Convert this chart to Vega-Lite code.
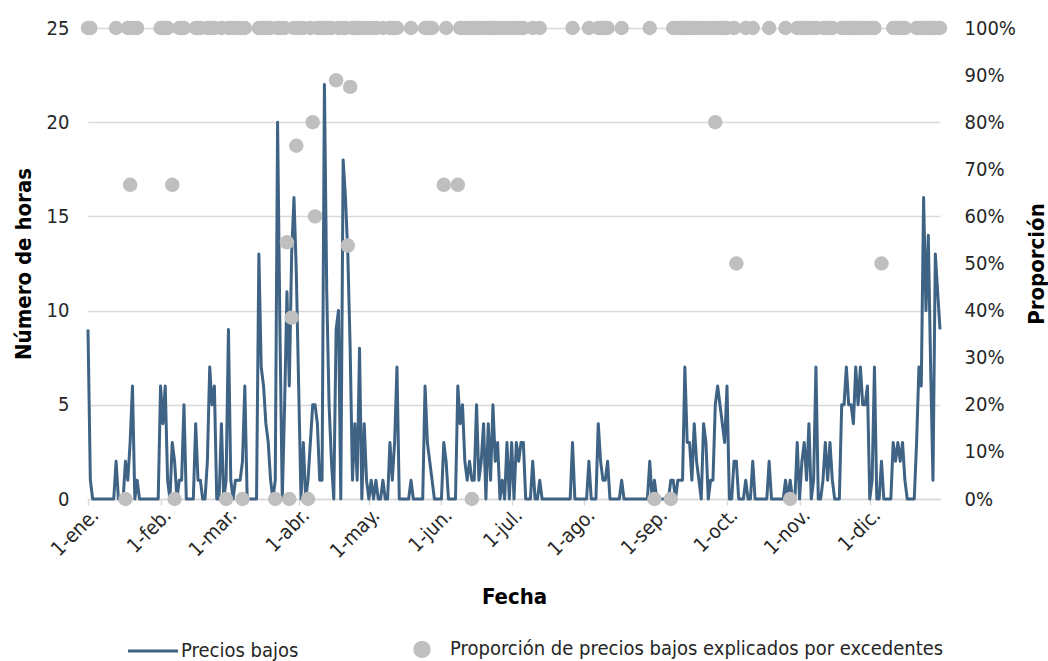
{
  "$schema": "https://vega.github.io/schema/vega-lite/v6.json",
  "width": 852,
  "height": 471,
  "autosize": {"type": "none"},
  "padding": {"left": 88, "top": 28, "right": 108, "bottom": 162},
  "background": "white",
  "config": {
    "view": {"stroke": null},
    "font": "Liberation Sans Narrow, DejaVu Sans Condensed, Roboto Condensed, Liberation Sans, sans-serif",
    "axis": {"labelColor": "#262626", "titleColor": "#000000"}
  },
  "data": {"values": [
    {"f":"2023-01-01","h":9,"p":1},{"f":"2023-01-02","h":1,"p":1},{"f":"2023-01-03","h":0},{"f":"2023-01-04","h":0},{"f":"2023-01-05","h":0},{"f":"2023-01-06","h":0},{"f":"2023-01-07","h":0},{"f":"2023-01-08","h":0},{"f":"2023-01-09","h":0},{"f":"2023-01-10","h":0},{"f":"2023-01-11","h":0},{"f":"2023-01-12","h":0},{"f":"2023-01-13","h":2,"p":1},{"f":"2023-01-14","h":0},{"f":"2023-01-15","h":0},{"f":"2023-01-16","h":0},{"f":"2023-01-17","h":2,"p":0},{"f":"2023-01-18","h":1,"p":1},{"f":"2023-01-19","h":3,"p":0.667},{"f":"2023-01-20","h":6,"p":1},{"f":"2023-01-21","h":0},{"f":"2023-01-22","h":1,"p":1},{"f":"2023-01-23","h":0},{"f":"2023-01-24","h":0},{"f":"2023-01-25","h":0},{"f":"2023-01-26","h":0},{"f":"2023-01-27","h":0},{"f":"2023-01-28","h":0},{"f":"2023-01-29","h":0},{"f":"2023-01-30","h":0},{"f":"2023-01-31","h":0},
    {"f":"2023-02-01","h":6,"p":1},{"f":"2023-02-02","h":4,"p":1},{"f":"2023-02-03","h":6,"p":1},{"f":"2023-02-04","h":1,"p":1},{"f":"2023-02-05","h":0},{"f":"2023-02-06","h":3,"p":0.667},{"f":"2023-02-07","h":2,"p":0},{"f":"2023-02-08","h":0},{"f":"2023-02-09","h":1,"p":1},{"f":"2023-02-10","h":1,"p":1},{"f":"2023-02-11","h":5,"p":1},{"f":"2023-02-12","h":0},{"f":"2023-02-13","h":0},{"f":"2023-02-14","h":0},{"f":"2023-02-15","h":0},{"f":"2023-02-16","h":4,"p":1},{"f":"2023-02-17","h":1,"p":1},{"f":"2023-02-18","h":1,"p":1},{"f":"2023-02-19","h":0},{"f":"2023-02-20","h":0},{"f":"2023-02-21","h":2,"p":1},{"f":"2023-02-22","h":7,"p":1},{"f":"2023-02-23","h":5,"p":1},{"f":"2023-02-24","h":6,"p":1},{"f":"2023-02-25","h":0},{"f":"2023-02-26","h":0},{"f":"2023-02-27","h":4,"p":1},{"f":"2023-02-28","h":0},
    {"f":"2023-03-01","h":1,"p":0},{"f":"2023-03-02","h":9,"p":1},{"f":"2023-03-03","h":1,"p":1},{"f":"2023-03-04","h":0},{"f":"2023-03-05","h":1,"p":1},{"f":"2023-03-06","h":1,"p":1},{"f":"2023-03-07","h":1,"p":1},{"f":"2023-03-08","h":2,"p":0},{"f":"2023-03-09","h":6,"p":1},{"f":"2023-03-10","h":0},{"f":"2023-03-11","h":0},{"f":"2023-03-12","h":0},{"f":"2023-03-13","h":0},{"f":"2023-03-14","h":0},{"f":"2023-03-15","h":13,"p":1},{"f":"2023-03-16","h":7,"p":1},{"f":"2023-03-17","h":6,"p":1},{"f":"2023-03-18","h":4,"p":1},{"f":"2023-03-19","h":3,"p":1},{"f":"2023-03-20","h":1,"p":1},{"f":"2023-03-21","h":0},{"f":"2023-03-22","h":1,"p":0},{"f":"2023-03-23","h":20,"p":1},{"f":"2023-03-24","h":9,"p":1},{"f":"2023-03-25","h":0},{"f":"2023-03-26","h":5,"p":1},{"f":"2023-03-27","h":11,"p":0.545},{"f":"2023-03-28","h":6,"p":0},{"f":"2023-03-29","h":13,"p":0.385},{"f":"2023-03-30","h":16,"p":1},{"f":"2023-03-31","h":12,"p":0.75},
    {"f":"2023-04-01","h":6,"p":1},{"f":"2023-04-02","h":0},{"f":"2023-04-03","h":3,"p":1},{"f":"2023-04-04","h":0},{"f":"2023-04-05","h":1,"p":0},{"f":"2023-04-06","h":3,"p":1},{"f":"2023-04-07","h":5,"p":0.8},{"f":"2023-04-08","h":5,"p":0.6},{"f":"2023-04-09","h":4,"p":1},{"f":"2023-04-10","h":1,"p":1},{"f":"2023-04-11","h":1,"p":1},{"f":"2023-04-12","h":22,"p":1},{"f":"2023-04-13","h":11,"p":1},{"f":"2023-04-14","h":5,"p":1},{"f":"2023-04-15","h":2,"p":1},{"f":"2023-04-16","h":0},{"f":"2023-04-17","h":9,"p":0.889},{"f":"2023-04-18","h":10,"p":1},{"f":"2023-04-19","h":0},{"f":"2023-04-20","h":18,"p":1},{"f":"2023-04-21","h":16,"p":1},{"f":"2023-04-22","h":13,"p":0.538},{"f":"2023-04-23","h":8,"p":0.875},{"f":"2023-04-24","h":1,"p":1},{"f":"2023-04-25","h":4,"p":1},{"f":"2023-04-26","h":1,"p":1},{"f":"2023-04-27","h":8,"p":1},{"f":"2023-04-28","h":0},{"f":"2023-04-29","h":4,"p":1},{"f":"2023-04-30","h":1,"p":1},
    {"f":"2023-05-01","h":0},{"f":"2023-05-02","h":1,"p":1},{"f":"2023-05-03","h":0},{"f":"2023-05-04","h":1,"p":1},{"f":"2023-05-05","h":0},{"f":"2023-05-06","h":0},{"f":"2023-05-07","h":1,"p":1},{"f":"2023-05-08","h":0},{"f":"2023-05-09","h":0},{"f":"2023-05-10","h":3,"p":1},{"f":"2023-05-11","h":1,"p":1},{"f":"2023-05-12","h":3,"p":1},{"f":"2023-05-13","h":7,"p":1},{"f":"2023-05-14","h":0},{"f":"2023-05-15","h":0},{"f":"2023-05-16","h":0},{"f":"2023-05-17","h":0},{"f":"2023-05-18","h":0},{"f":"2023-05-19","h":1,"p":1},{"f":"2023-05-20","h":0},{"f":"2023-05-21","h":0},{"f":"2023-05-22","h":0},{"f":"2023-05-23","h":0},{"f":"2023-05-24","h":0},{"f":"2023-05-25","h":6,"p":1},{"f":"2023-05-26","h":3,"p":1},{"f":"2023-05-27","h":2,"p":1},{"f":"2023-05-28","h":1,"p":1},{"f":"2023-05-29","h":0},{"f":"2023-05-30","h":0},{"f":"2023-05-31","h":0},
    {"f":"2023-06-01","h":0},{"f":"2023-06-02","h":3,"p":0.667},{"f":"2023-06-03","h":2,"p":1},{"f":"2023-06-04","h":0},{"f":"2023-06-05","h":0},{"f":"2023-06-06","h":0},{"f":"2023-06-07","h":0},{"f":"2023-06-08","h":6,"p":0.667},{"f":"2023-06-09","h":4,"p":1},{"f":"2023-06-10","h":5,"p":1},{"f":"2023-06-11","h":2,"p":1},{"f":"2023-06-12","h":1,"p":1},{"f":"2023-06-13","h":2,"p":1},{"f":"2023-06-14","h":1,"p":0},{"f":"2023-06-15","h":1,"p":1},{"f":"2023-06-16","h":5,"p":1},{"f":"2023-06-17","h":1,"p":1},{"f":"2023-06-18","h":2,"p":1},{"f":"2023-06-19","h":4,"p":1},{"f":"2023-06-20","h":0},{"f":"2023-06-21","h":4,"p":1},{"f":"2023-06-22","h":1,"p":1},{"f":"2023-06-23","h":5,"p":1},{"f":"2023-06-24","h":2,"p":1},{"f":"2023-06-25","h":3,"p":1},{"f":"2023-06-26","h":0},{"f":"2023-06-27","h":1,"p":1},{"f":"2023-06-28","h":0},{"f":"2023-06-29","h":3,"p":1},{"f":"2023-06-30","h":0},
    {"f":"2023-07-01","h":3,"p":1},{"f":"2023-07-02","h":0},{"f":"2023-07-03","h":3,"p":1},{"f":"2023-07-04","h":2,"p":1},{"f":"2023-07-05","h":3,"p":1},{"f":"2023-07-06","h":3,"p":1},{"f":"2023-07-07","h":0},{"f":"2023-07-08","h":0},{"f":"2023-07-09","h":0},{"f":"2023-07-10","h":2,"p":1},{"f":"2023-07-11","h":0},{"f":"2023-07-12","h":0},{"f":"2023-07-13","h":1,"p":1},{"f":"2023-07-14","h":0},{"f":"2023-07-15","h":0},{"f":"2023-07-16","h":0},{"f":"2023-07-17","h":0},{"f":"2023-07-18","h":0},{"f":"2023-07-19","h":0},{"f":"2023-07-20","h":0},{"f":"2023-07-21","h":0},{"f":"2023-07-22","h":0},{"f":"2023-07-23","h":0},{"f":"2023-07-24","h":0},{"f":"2023-07-25","h":0},{"f":"2023-07-26","h":0},{"f":"2023-07-27","h":3,"p":1},{"f":"2023-07-28","h":0},{"f":"2023-07-29","h":0},{"f":"2023-07-30","h":0},{"f":"2023-07-31","h":0},
    {"f":"2023-08-01","h":0},{"f":"2023-08-02","h":0},{"f":"2023-08-03","h":2,"p":1},{"f":"2023-08-04","h":0},{"f":"2023-08-05","h":0},{"f":"2023-08-06","h":0},{"f":"2023-08-07","h":4,"p":1},{"f":"2023-08-08","h":2,"p":1},{"f":"2023-08-09","h":1,"p":1},{"f":"2023-08-10","h":1,"p":1},{"f":"2023-08-11","h":2,"p":1},{"f":"2023-08-12","h":0},{"f":"2023-08-13","h":0},{"f":"2023-08-14","h":0},{"f":"2023-08-15","h":0},{"f":"2023-08-16","h":0},{"f":"2023-08-17","h":1,"p":1},{"f":"2023-08-18","h":0},{"f":"2023-08-19","h":0},{"f":"2023-08-20","h":0},{"f":"2023-08-21","h":0},{"f":"2023-08-22","h":0},{"f":"2023-08-23","h":0},{"f":"2023-08-24","h":0},{"f":"2023-08-25","h":0},{"f":"2023-08-26","h":0},{"f":"2023-08-27","h":0},{"f":"2023-08-28","h":0},{"f":"2023-08-29","h":2,"p":1},{"f":"2023-08-30","h":0},{"f":"2023-08-31","h":1,"p":0},
    {"f":"2023-09-01","h":0},{"f":"2023-09-02","h":0},{"f":"2023-09-03","h":0},{"f":"2023-09-04","h":0},{"f":"2023-09-05","h":0},{"f":"2023-09-06","h":0},{"f":"2023-09-07","h":1,"p":0},{"f":"2023-09-08","h":1,"p":1},{"f":"2023-09-09","h":0},{"f":"2023-09-10","h":1,"p":1},{"f":"2023-09-11","h":1,"p":1},{"f":"2023-09-12","h":1,"p":1},{"f":"2023-09-13","h":7,"p":1},{"f":"2023-09-14","h":3,"p":1},{"f":"2023-09-15","h":3,"p":1},{"f":"2023-09-16","h":1,"p":1},{"f":"2023-09-17","h":4,"p":1},{"f":"2023-09-18","h":2,"p":1},{"f":"2023-09-19","h":1,"p":1},{"f":"2023-09-20","h":0},{"f":"2023-09-21","h":4,"p":1},{"f":"2023-09-22","h":3,"p":1},{"f":"2023-09-23","h":0},{"f":"2023-09-24","h":1,"p":1},{"f":"2023-09-25","h":1,"p":1},{"f":"2023-09-26","h":5,"p":0.8},{"f":"2023-09-27","h":6,"p":1},{"f":"2023-09-28","h":5,"p":1},{"f":"2023-09-29","h":4,"p":1},{"f":"2023-09-30","h":3,"p":1},
    {"f":"2023-10-01","h":6,"p":1},{"f":"2023-10-02","h":0},{"f":"2023-10-03","h":0},{"f":"2023-10-04","h":2,"p":1},{"f":"2023-10-05","h":2,"p":0.5},{"f":"2023-10-06","h":0},{"f":"2023-10-07","h":0},{"f":"2023-10-08","h":0},{"f":"2023-10-09","h":1,"p":1},{"f":"2023-10-10","h":0},{"f":"2023-10-11","h":0},{"f":"2023-10-12","h":2,"p":1},{"f":"2023-10-13","h":0},{"f":"2023-10-14","h":0},{"f":"2023-10-15","h":0},{"f":"2023-10-16","h":0},{"f":"2023-10-17","h":0},{"f":"2023-10-18","h":0},{"f":"2023-10-19","h":2,"p":1},{"f":"2023-10-20","h":0},{"f":"2023-10-21","h":0},{"f":"2023-10-22","h":0},{"f":"2023-10-23","h":0},{"f":"2023-10-24","h":0},{"f":"2023-10-25","h":0},{"f":"2023-10-26","h":1,"p":1},{"f":"2023-10-27","h":0},{"f":"2023-10-28","h":1,"p":0},{"f":"2023-10-29","h":0},{"f":"2023-10-30","h":0},{"f":"2023-10-31","h":3,"p":1},
    {"f":"2023-11-01","h":0},{"f":"2023-11-02","h":2,"p":1},{"f":"2023-11-03","h":3,"p":1},{"f":"2023-11-04","h":1,"p":1},{"f":"2023-11-05","h":4,"p":1},{"f":"2023-11-06","h":0},{"f":"2023-11-07","h":1,"p":1},{"f":"2023-11-08","h":7,"p":1},{"f":"2023-11-09","h":0},{"f":"2023-11-10","h":0},{"f":"2023-11-11","h":1,"p":1},{"f":"2023-11-12","h":3,"p":1},{"f":"2023-11-13","h":1,"p":1},{"f":"2023-11-14","h":3,"p":1},{"f":"2023-11-15","h":1,"p":1},{"f":"2023-11-16","h":0},{"f":"2023-11-17","h":0},{"f":"2023-11-18","h":0},{"f":"2023-11-19","h":5,"p":1},{"f":"2023-11-20","h":5,"p":1},{"f":"2023-11-21","h":7,"p":1},{"f":"2023-11-22","h":5,"p":1},{"f":"2023-11-23","h":5,"p":1},{"f":"2023-11-24","h":4,"p":1},{"f":"2023-11-25","h":7,"p":1},{"f":"2023-11-26","h":5,"p":1},{"f":"2023-11-27","h":7,"p":1},{"f":"2023-11-28","h":5,"p":1},{"f":"2023-11-29","h":5,"p":1},{"f":"2023-11-30","h":6,"p":1},
    {"f":"2023-12-01","h":0},{"f":"2023-12-02","h":1,"p":1},{"f":"2023-12-03","h":7,"p":1},{"f":"2023-12-04","h":0},{"f":"2023-12-05","h":0},{"f":"2023-12-06","h":2,"p":0.5},{"f":"2023-12-07","h":0},{"f":"2023-12-08","h":0},{"f":"2023-12-09","h":0},{"f":"2023-12-10","h":0},{"f":"2023-12-11","h":3,"p":1},{"f":"2023-12-12","h":2,"p":1},{"f":"2023-12-13","h":3,"p":1},{"f":"2023-12-14","h":2,"p":1},{"f":"2023-12-15","h":3,"p":1},{"f":"2023-12-16","h":1,"p":1},{"f":"2023-12-17","h":0},{"f":"2023-12-18","h":0},{"f":"2023-12-19","h":0},{"f":"2023-12-20","h":0},{"f":"2023-12-21","h":3,"p":1},{"f":"2023-12-22","h":7,"p":1},{"f":"2023-12-23","h":6,"p":1},{"f":"2023-12-24","h":16,"p":1},{"f":"2023-12-25","h":10,"p":1},{"f":"2023-12-26","h":14,"p":1},{"f":"2023-12-27","h":7,"p":1},{"f":"2023-12-28","h":1,"p":1},{"f":"2023-12-29","h":13,"p":1},{"f":"2023-12-30","h":11,"p":1},{"f":"2023-12-31","h":9,"p":1}
  ]},
  "encoding": {
    "x": {
      "field": "f", "type": "temporal",
      "scale": {"type": "utc", "domain": ["2023-01-01", "2023-12-31"]},
      "axis": {
        "title": "Fecha", "titleFontSize": 22, "titleFontWeight": "bold", "titlePadding": 25,
        "tickCount": {"interval": "month", "step": 1},
        "labelExpr": "'1-' + ['ene.','feb.','mar.','abr.','may.','jun.','jul.','ago.','sep.','oct.','nov.','dic.'][utcmonth(datum.value)]",
        "labelAngle": -45, "labelFontSize": 20, "labelPadding": 0, "labelOverlap": false, "labelBound": false, "labelFlush": false,
        "grid": false, "domainColor": "#d9d9d9", "domainWidth": 1.5, "tickColor": "#d9d9d9", "tickWidth": 1.5, "tickSize": 6
      }
    }
  },
  "layer": [
    {
      "mark": {"type": "line", "strokeWidth": 3, "strokeJoin": "round"},
      "encoding": {
        "y": {
          "field": "h", "type": "quantitative", "scale": {"domain": [0, 25]},
          "axis": {
            "title": "Número de horas", "titleFontSize": 22, "titleFontWeight": "bold", "titlePadding": 11,
            "values": [0, 5, 10, 15, 20, 25], "labelFontSize": 20, "labelPadding": 19,
            "domain": false, "ticks": false, "grid": true, "gridColor": "#d9d9d9", "gridWidth": 1.5
          }
        },
        "color": {
          "datum": "Precios bajos",
          "scale": {"domain": ["Precios bajos", "Proporción de precios bajos explicados por excedentes"], "range": ["#3f6384", "#bfbfbf"]},
          "legend": {
            "orient": "none", "legendX": 42, "legendY": 611, "direction": "horizontal", "title": null,
            "symbolSize": 2500, "labelFontSize": 20, "labelOffset": 18, "symbolOffset": 13, "columnPadding": 100, "labelColor": "#262626", "labelLimit": 800,
            "encode": {
              "symbols": {
                "update": {
                  "shape": {"signal": "datum.value === 'Precios bajos' ? 'stroke' : 'circle'"},
                  "size": {"signal": "datum.value === 'Precios bajos' ? 2500 : 210"},
                  "fill": {"signal": "datum.value === 'Precios bajos' ? 'transparent' : '#bfbfbf'"},
                  "stroke": {"signal": "datum.value === 'Precios bajos' ? '#3f6384' : 'transparent'"},
                  "strokeWidth": {"value": 3},
                  "opacity": {"value": 1}
                }
              }
            }
          }
        }
      }
    },
    {
      "transform": [{"filter": "isValid(datum.p)"}],
      "mark": {"type": "circle", "size": 210, "opacity": 1},
      "encoding": {
        "y": {
          "field": "p", "type": "quantitative", "scale": {"domain": [0, 1]},
          "axis": {
            "orient": "right", "title": "Proporción", "titleFontSize": 22, "titleFontWeight": "bold", "titleAngle": 270, "titlePadding": 33,
            "values": [0, 0.1, 0.2, 0.3, 0.4, 0.5, 0.6, 0.7, 0.8, 0.9, 1], "format": ".0%", "labelFontSize": 20, "labelPadding": 24,
            "domain": false, "ticks": false, "grid": false
          }
        },
        "color": {"datum": "Proporción de precios bajos explicados por excedentes"}
      }
    }
  ],
  "resolve": {"scale": {"y": "independent"}}
}
